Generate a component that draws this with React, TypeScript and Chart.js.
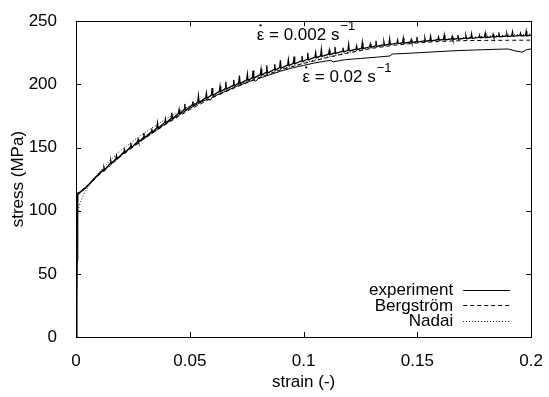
import React, { useEffect, useRef } from "react";
import { Chart, registerables } from "chart.js";

Chart.register(...registerables);

const FONT = "'Liberation Sans', Arial, Helvetica, sans-serif";

// ---------- data ----------
const xTickValues = [0, 0.05, 0.1, 0.15, 0.2];
const xTickLabels = ["0", "0.05", "0.1", "0.15", "0.2"];
const yTickValues = [0, 50, 100, 150, 200, 250];
const yTickLabels = ["0", "50", "100", "150", "200", "250"];

const legendNames = ["experiment", "Bergström", "Nadai"];
const rateValues = ["0.002", "0.02"];

// experiment, strain rate 0.002 1/s (serrated)
const expSlow: [number, number][] = [
  [0, 0], [0.0004, 60], [0.0007, 113.5], [0.002, 115], [0.004, 118], [0.006, 121.5], [0.008, 125.5], [0.010, 129],
  [0.012, 132.4], [0.0123, 134], [0.0126, 132],
  [0.015, 137.5], [0.0153, 139.5], [0.0156, 137.2],
  [0.0175, 141.2], [0.0178, 143.5], [0.0181, 141],
  [0.021, 146.4], [0.0213, 148.5], [0.0216, 146.1],
  [0.0238, 150.3], [0.0241, 153.5], [0.0244, 150],
  [0.027, 154.6], [0.0273, 156.5], [0.0276, 154.3],
  [0.0295, 157.8], [0.0298, 161.5], [0.0301, 157.5],
  [0.033, 162.4], [0.0333, 165], [0.0336, 162],
  [0.0355, 165.6], [0.0358, 169.5], [0.0361, 165.2],
  [0.039, 169.8], [0.0393, 172.5], [0.0396, 169.4],
  [0.0418, 173.2], [0.0421, 177.5], [0.0424, 172.8],
  [0.045, 177], [0.0453, 180], [0.0456, 176.6],
  [0.0475, 179.8], [0.0478, 184.5], [0.0481, 179.4],
  [0.051, 183.5], [0.0513, 186.5], [0.0516, 183.1],
  [0.0535, 186], [0.0538, 191], [0.0541, 185.6],
  [0.057, 189.3], [0.0573, 193], [0.0576, 188.9],
  [0.0595, 191.6], [0.0598, 197], [0.0601, 191.2],
  [0.063, 194.5], [0.0633, 198.5], [0.0636, 194.1],
  [0.0655, 196.6], [0.0658, 202], [0.0661, 196.2],
  [0.069, 199.2], [0.0693, 203.5], [0.0696, 198.8],
  [0.0715, 201], [0.0718, 207], [0.0721, 200.6],
  [0.075, 203.5], [0.0753, 208], [0.0756, 203.1],
  [0.0775, 205.3], [0.0778, 211], [0.0781, 204.9],
  [0.081, 207.7], [0.0813, 212], [0.0816, 207.3],
  [0.0835, 209.4], [0.0838, 215], [0.0841, 209],
  [0.087, 211.7], [0.0873, 216], [0.0876, 211.3],
  [0.0895, 213.2], [0.0898, 219], [0.0901, 212.8],
  [0.093, 215.3], [0.0933, 219.5], [0.0936, 214.9],
  [0.0955, 216.7], [0.0958, 222], [0.0961, 216.3],
  [0.099, 218.5], [0.0993, 222.5], [0.0996, 218.1],
  [0.1015, 219.8], [0.1018, 225], [0.1021, 219.4],
  [0.105, 221.5], [0.1053, 225], [0.1056, 221.1],
  [0.1075, 222.5], [0.1078, 227.5], [0.1081, 222.1],
  [0.111, 223.9], [0.1113, 227], [0.1116, 223.5],
  [0.1135, 224.9], [0.1138, 229.5], [0.1141, 224.5],
  [0.117, 226.1], [0.1173, 229], [0.1176, 225.7],
  [0.1195, 226.9], [0.1198, 231.5], [0.1201, 226.5],
  [0.123, 227.9], [0.1233, 230.5], [0.1236, 227.5],
  [0.1255, 228.6], [0.1258, 233], [0.1261, 228.2],
  [0.129, 229.7], [0.1293, 232], [0.1296, 229.3],
  [0.1315, 230.4], [0.1318, 234.5], [0.1321, 230],
  [0.135, 231.3], [0.1353, 233.5], [0.1356, 230.9],
  [0.1375, 231.9], [0.1378, 236], [0.1381, 231.5],
  [0.141, 232.7], [0.1413, 235], [0.1416, 232.3],
  [0.1435, 233], [0.1438, 236.5], [0.1441, 232.6],
  [0.147, 233.6], [0.1473, 235.5], [0.1476, 233.2],
  [0.1495, 233.9], [0.1498, 237.5], [0.1501, 233.5],
  [0.153, 234.5], [0.1533, 236.5], [0.1536, 234.1],
  [0.1555, 234.8], [0.1558, 238], [0.1561, 234.4],
  [0.159, 235.4], [0.1593, 237.5], [0.1596, 235],
  [0.1615, 235.6], [0.1618, 239], [0.1621, 235.2],
  [0.165, 236], [0.1653, 238], [0.1656, 235.6],
  [0.1675, 236.2], [0.1678, 239], [0.1681, 235.8],
  [0.171, 236.6], [0.1713, 238.5], [0.1716, 236.2],
  [0.1735, 236.8], [0.1738, 240], [0.1741, 236.4],
  [0.177, 237.2], [0.1773, 239], [0.1776, 236.8],
  [0.1795, 237.4], [0.1798, 240.5], [0.1801, 237],
  [0.183, 237.8], [0.1833, 239.5], [0.1836, 237.4],
  [0.1855, 238], [0.1858, 241], [0.1861, 237.6],
  [0.189, 238.2], [0.1893, 240], [0.1896, 237.8],
  [0.1915, 238.4], [0.1918, 241.5], [0.1921, 238],
  [0.195, 238.7], [0.1953, 240.5], [0.1956, 238.3],
  [0.1975, 238.8], [0.1978, 242], [0.1981, 238.4],
  [0.2, 239],
];

// experiment, strain rate 0.02 1/s
const expFast: [number, number][] = [
  [0, 0], [0.0005, 60], [0.0008, 112.5], [0.002, 114.5], [0.004, 117.5], [0.006, 121], [0.008, 125],
  [0.010, 128.5], [0.015, 137], [0.020, 144], [0.025, 151], [0.030, 157.5], [0.035, 163.5],
  [0.040, 169.5], [0.045, 175.5], [0.050, 181], [0.055, 186], [0.058, 188.5], [0.059, 187.5],
  [0.060, 190], [0.065, 194], [0.070, 198], [0.075, 201.5], [0.078, 203.5], [0.079, 202.5],
  [0.080, 204.5], [0.085, 207.5], [0.090, 210.5], [0.095, 213], [0.100, 215], [0.105, 217],
  [0.110, 218.5], [0.112, 219], [0.113, 217.8], [0.118, 219.5], [0.125, 220.5], [0.132, 221.5],
  [0.138, 222.5], [0.139, 224], [0.145, 224.5], [0.155, 225.5], [0.165, 226.5], [0.175, 227.2],
  [0.185, 227.8], [0.190, 228], [0.193, 226.5], [0.196, 225.5], [0.198, 227.5], [0.2, 228],
];

// Bergström model (dashed)
const bergstrom: [number, number][] = [
  [0, 113], [0.005, 119.5], [0.010, 128], [0.020, 143.5], [0.030, 157], [0.040, 169],
  [0.050, 180], [0.060, 189.5], [0.070, 197.5], [0.080, 205], [0.090, 211.5], [0.100, 216.5],
  [0.110, 221], [0.120, 225], [0.130, 228.5], [0.140, 231], [0.150, 232.8], [0.160, 234],
  [0.170, 234.6], [0.180, 234.8], [0.190, 234.9], [0.200, 235],
];

// Nadai model (dotted)
const nadai: [number, number][] = [
  [0, 93], [0.001, 101], [0.002, 107], [0.003, 111.5], [0.004, 115], [0.006, 120.5],
  [0.008, 125.5], [0.010, 130], [0.015, 140], [0.020, 148], [0.025, 155], [0.030, 161.5],
  [0.035, 167.5], [0.040, 173], [0.045, 178], [0.050, 183], [0.060, 191.5], [0.070, 199],
  [0.080, 206], [0.090, 212], [0.100, 217], [0.110, 221.5], [0.120, 225.5], [0.130, 229],
  [0.140, 232], [0.150, 233.5], [0.160, 235.3], [0.170, 236.8], [0.180, 238], [0.190, 239],
  [0.200, 239.8],
];

const toXY = (arr: [number, number][]) => arr.map(([x, y]) => ({ x, y }));

// ---------- decoration plugin (gnuplot-like frame, ticks, legend, labels) ----------
const gnuplotDecor = {
  id: "gnuplotDecor",
  afterDraw(chart: any) {
    const { ctx, chartArea: a, scales } = chart;
    const xs = scales.x;
    const ys = scales.y;
    ctx.save();
    ctx.strokeStyle = "#000";
    ctx.lineWidth = 1;
    ctx.setLineDash([]);
    // frame
    ctx.strokeRect(Math.round(a.left) + 0.5, Math.round(a.top) + 0.5,
      Math.round(a.right) - Math.round(a.left), Math.round(a.bottom) - Math.round(a.top));
    // inner ticks on all sides
    const TL = 5;
    ctx.beginPath();
    xTickValues.forEach((v) => {
      const px = Math.round(xs.getPixelForValue(v)) + 0.5;
      ctx.moveTo(px, a.bottom); ctx.lineTo(px, a.bottom - TL);
      ctx.moveTo(px, a.top); ctx.lineTo(px, a.top + TL);
    });
    yTickValues.forEach((v) => {
      const py = Math.round(ys.getPixelForValue(v)) + 0.5;
      ctx.moveTo(a.left, py); ctx.lineTo(a.left + TL, py);
      ctx.moveTo(a.right, py); ctx.lineTo(a.right - TL, py);
    });
    ctx.stroke();

    // legend (gnuplot style: text right-aligned, sample to the right)
    const styleIdx = [3, 0, 1];
    ctx.font = `17px ${FONT}`;
    ctx.fillStyle = "#000";
    ctx.textAlign = "right";
    ctx.textBaseline = "middle";
    const rowY = [a.bottom - 47.5, a.bottom - 32, a.bottom - 16.5];
    legendNames.forEach((name, i) => {
      const ds = chart.data.datasets[styleIdx[i]];
      const y = rowY[i];
      ctx.fillText(name, a.right - 78, y + 1);
      ctx.beginPath();
      ctx.setLineDash(ds.borderDash || []);
      ctx.lineWidth = 1;
      ctx.moveTo(a.right - 68, Math.round(y) + 0.5);
      ctx.lineTo(a.right - 21, Math.round(y) + 0.5);
      ctx.stroke();
      ctx.setLineDash([]);
    });

    // strain-rate labels: "ε̇ = value s^-1"
    const anchors = [[0.0794, 234.8], [0.0995, 201.5]];
    ctx.textAlign = "left";
    ctx.textBaseline = "alphabetic";
    rateValues.forEach((rv, i) => {
      const px = xs.getPixelForValue(anchors[i][0]);
      const py = ys.getPixelForValue(anchors[i][1]);
      ctx.font = `17px ${FONT}`;
      const eps = "\u03B5";
      ctx.fillText(eps, px, py);
      const we = ctx.measureText(eps).width;
      ctx.beginPath();
      ctx.arc(px + we / 2, py - 15, 1.1, 0, Math.PI * 2);
      ctx.fill();
      const rest = ` = ${rv} s`;
      ctx.fillText(rest, px + we, py);
      const w = we + ctx.measureText(rest).width;
      ctx.font = `13px ${FONT}`;
      ctx.fillText("\u22121", px + w + 1, py - 10);
    });
    ctx.restore();
  },
};

export default function App() {
  const ref = useRef<HTMLCanvasElement | null>(null);

  useEffect(() => {
    if (!ref.current) return;
    const tickFont = { family: FONT, size: 17 };
    const chart = new Chart(ref.current, {
      type: "scatter",
      data: {
        datasets: [
          {
            label: "Bergström",
            data: toXY(bergstrom),
            borderColor: "#000",
            borderWidth: 1,
            borderDash: [4, 3],
            showLine: true,
            pointRadius: 0,
            fill: false,
          },
          {
            label: "Nadai",
            data: toXY(nadai),
            borderColor: "#000",
            borderWidth: 1,
            borderDash: [1, 2],
            showLine: true,
            pointRadius: 0,
            fill: false,
          },
          {
            label: "experiment 0.02",
            data: toXY(expFast),
            borderColor: "#000",
            borderWidth: 1,
            showLine: true,
            pointRadius: 0,
            fill: false,
          },
          {
            label: "experiment",
            data: toXY(expSlow),
            borderColor: "#000",
            borderWidth: 1.3,
            showLine: true,
            pointRadius: 0,
            fill: false,
          },
        ],
      },
      options: {
        animation: false,
        responsive: false,
        devicePixelRatio: 1,
        layout: { padding: { top: 13, right: 13, left: 0, bottom: 0 } },
        plugins: {
          legend: { display: false },
          tooltip: { enabled: false },
        },
        scales: {
          x: {
            type: "linear",
            min: 0,
            max: 0.2,
            grid: { display: false },
            border: { display: false },
            afterBuildTicks: (s: any) => {
              s.ticks = xTickValues.map((v) => ({ value: v }));
            },
            afterFit: (s: any) => {
              s.height = 60;
            },
            ticks: {
              color: "#000",
              font: tickFont,
              padding: 6,
              maxRotation: 0,
              autoSkip: false,
              callback: (_v: any, i: number) => xTickLabels[i],
            },
            title: {
              display: true,
              text: "strain (-)",
              color: "#000",
              font: tickFont,
              padding: { top: 0, bottom: 4 },
            },
          },
          y: {
            type: "linear",
            min: 0,
            max: 250,
            grid: { display: false },
            border: { display: false },
            afterBuildTicks: (s: any) => {
              s.ticks = yTickValues.map((v) => ({ value: v }));
            },
            afterFit: (s: any) => {
              s.width = 76;
            },
            ticks: {
              color: "#000",
              font: tickFont,
              padding: 11,
              autoSkip: false,
              callback: (_v: any, i: number) => yTickLabels[i],
            },
            title: {
              display: true,
              text: "stress (MPa)",
              color: "#000",
              font: tickFont,
              padding: { top: 8, bottom: 0 },
            },
          },
        },
      },
      plugins: [gnuplotDecor],
    });
    return () => chart.destroy();
  }, []);

  return (
    <div style={{ position: "absolute", left: 0, top: 0, width: 549, height: 397, background: "#fff" }}>
      <canvas ref={ref} width={549} height={397} style={{ width: 549, height: 397, display: "block" }} />
    </div>
  );
}
